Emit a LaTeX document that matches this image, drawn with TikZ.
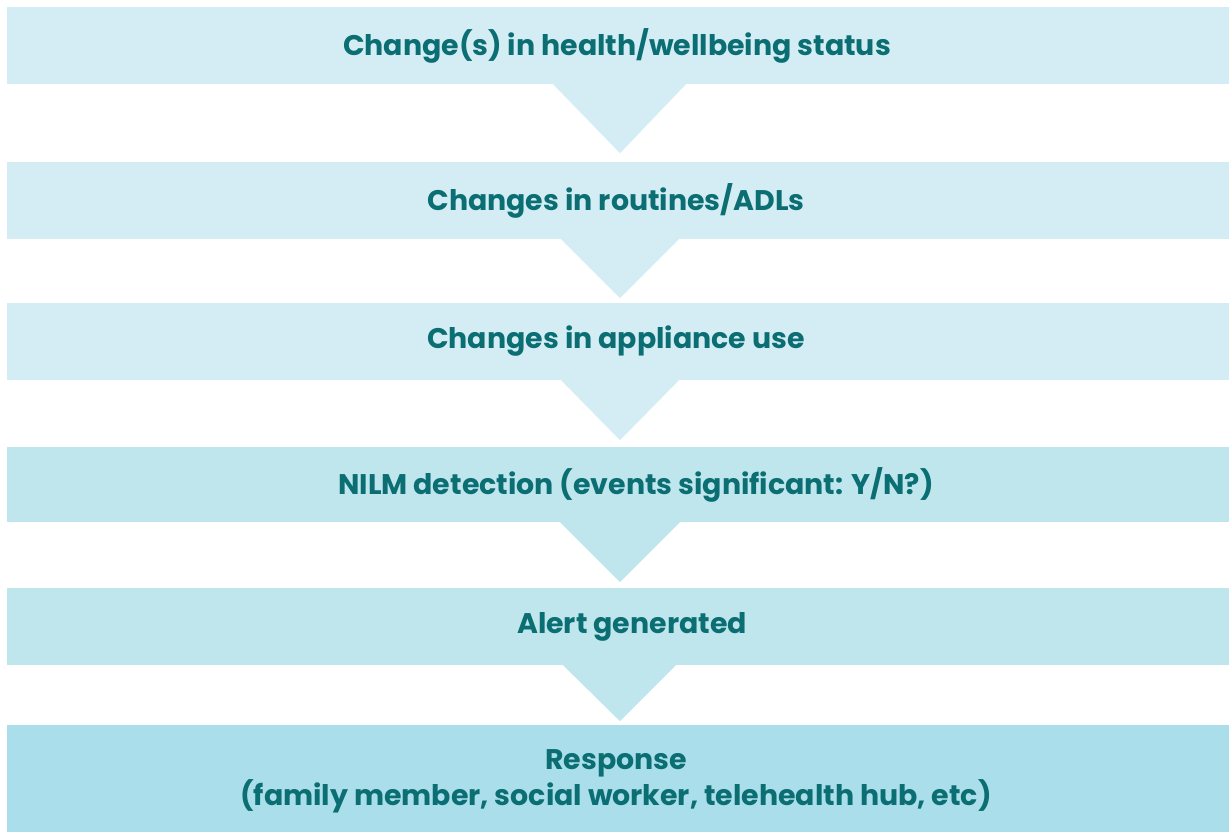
\documentclass[tikz,border=0pt]{standalone}
\usepackage{fontspec}
\setmainfont{Poppins}
\usetikzlibrary{calc}
\definecolor{paleA}{HTML}{D4EDF4}
\definecolor{paleB}{HTML}{BFE5ED}
\definecolor{paleC}{HTML}{AADEEA}
\definecolor{teal}{HTML}{0A6E72}
\begin{document}
\begin{tikzpicture}[x=1pt,y=-1pt,
  bar/.style={rectangle, inner sep=0pt, minimum width=1222pt},
  caption/.style={inner sep=0pt, text=teal,
    font=\fontsize{28.4}{36}\selectfont\bfseries, align=center},
]
\useasboundingbox (0,0) rectangle (1229,832);

% stage bands
\node[bar, fill=paleA, minimum height=77pt] (b1) at (618,45.5) {};
\node[bar, fill=paleA, minimum height=77pt] (b2) at (618,200.5) {};
\node[bar, fill=paleA, minimum height=77pt] (b3) at (618,341.5) {};
\node[bar, fill=paleB, minimum height=75pt] (b4) at (618,484.5) {};
\node[bar, fill=paleB, minimum height=77pt] (b5) at (618,626.5) {};
\node[bar, fill=paleC, minimum height=107pt] (b6) at (618,778.5) {};

% stage captions
\node[caption] (l1) at ($(b1.center)+(-1,0)$) {Change(s) in health/wellbeing status};
\node[caption] (l2) at ($(b2.center)+(-2,0)$) {Changes in routines/ADLs};
\node[caption] (l3) at ($(b3.center)+(-2,0)$) {Changes in appliance use};
\node[caption] (l4) at ($(b4.center)+(18,0)$) {NILM detection (events significant: Y/N?)};
\node[caption] (l5) at ($(b5.center)+(14,0)$) {Alert generated};
\node[caption] (l6) at ($(b6.center)+(-2,3)$) {Response\\(family member, social worker, telehealth hub, etc)};

% downward pointers between stages
\fill[paleA] ($(b1.south)+(-65,0)$) -- ($(b1.south)+(68,0)$) -- ($(b1.south)+(2,69)$) -- cycle;
\fill[paleA] ($(b2.south)+(-57,0)$) -- ($(b2.south)+(61,0)$) -- ($(b2.south)+(2,59)$) -- cycle;
\fill[paleA] ($(b3.south)+(-57,0)$) -- ($(b3.south)+(61,0)$) -- ($(b3.south)+(2,60)$) -- cycle;
\fill[paleB] ($(b4.south)+(-58,0)$) -- ($(b4.south)+(62,0)$) -- ($(b4.south)+(2,60)$) -- cycle;
\fill[paleB] ($(b5.south)+(-55,0)$) -- ($(b5.south)+(58,0)$) -- ($(b5.south)+(2,56)$) -- cycle;
\end{tikzpicture}
\end{document}
